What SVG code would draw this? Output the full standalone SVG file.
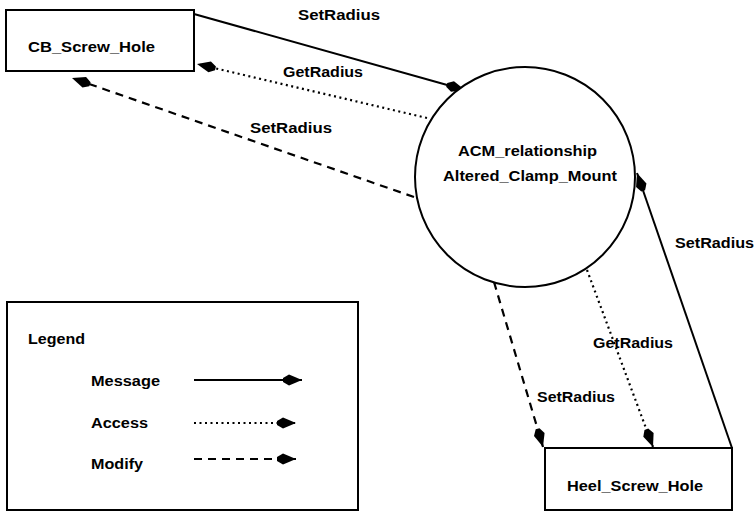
<svg xmlns="http://www.w3.org/2000/svg" width="754" height="513" viewBox="0 0 754 513">
<style>
text{font-family:"Liberation Sans",Arial,sans-serif;font-weight:bold;font-size:14px;fill:#000}
.box{fill:#fff;stroke:#000;stroke-width:2}
.msg{fill:none;stroke:#000;stroke-width:2}
.acc{fill:none;stroke:#000;stroke-width:2.2;stroke-dasharray:2 3.5}
.mod{fill:none;stroke:#000;stroke-width:2.2;stroke-dasharray:8 6}
</style>
<defs>
<marker id="ah" markerUnits="userSpaceOnUse" markerWidth="22" markerHeight="14" viewBox="-20 -7 22 14" refX="0" refY="0" orient="auto">
<path d="M0,0 L-13,-5.5 L-19,-2 L-19,2 L-13,5.5 Z" fill="#000"/>
</marker>
</defs>
<rect width="754" height="513" fill="#fff"/>
<g id="connectors">
<path class="msg" d="M194,14 L465,90" marker-end="url(#ah)"/>
<text x="298" y="20" textLength="82" lengthAdjust="spacingAndGlyphs">SetRadius</text>
<path class="acc" d="M427,118 L197,64" marker-end="url(#ah)"/>
<text x="283" y="77" textLength="80" lengthAdjust="spacingAndGlyphs">GetRadius</text>
<path class="mod" d="M414,197 L72,78" marker-end="url(#ah)"/>
<text x="250" y="133" textLength="82" lengthAdjust="spacingAndGlyphs">SetRadius</text>
<path class="msg" d="M732,448 L637,173" marker-end="url(#ah)"/>
<text x="675" y="248" textLength="79" lengthAdjust="spacingAndGlyphs">SetRadius</text>
<path class="mod" d="M494,282 L543,447" marker-end="url(#ah)"/>
<text x="537" y="402" textLength="78" lengthAdjust="spacingAndGlyphs">SetRadius</text>
<path class="acc" d="M587,270 L653,447" marker-end="url(#ah)"/>
<text x="593" y="348" textLength="80" lengthAdjust="spacingAndGlyphs">GetRadius</text>
</g>
<g id="CB_Screw_Hole">
<rect class="box" x="6" y="10" width="188" height="61"/>
<text x="28" y="52" textLength="127" lengthAdjust="spacingAndGlyphs">CB_Screw_Hole</text>
</g>
<g id="ACM_relationship">
<circle class="box" cx="525" cy="177" r="110" fill="none"/>
<text x="458" y="156" textLength="139" lengthAdjust="spacingAndGlyphs">ACM_relationship</text>
<text x="443" y="181" textLength="174" lengthAdjust="spacingAndGlyphs">Altered_Clamp_Mount</text>
</g>
<g id="Heel_Screw_Hole">
<rect class="box" x="545" y="448" width="187" height="62"/>
<text x="567" y="491" textLength="136" lengthAdjust="spacingAndGlyphs">Heel_Screw_Hole</text>
</g>
<g id="Legend">
<rect class="box" x="7" y="302" width="351" height="208"/>
<text x="28" y="344" textLength="57" lengthAdjust="spacingAndGlyphs">Legend</text>
<text x="91" y="386" textLength="69" lengthAdjust="spacingAndGlyphs">Message</text>
<path class="msg" d="M194,380 L302,380" marker-end="url(#ah)"/>
<text x="91" y="428" textLength="57" lengthAdjust="spacingAndGlyphs">Access</text>
<path class="acc" d="M194,423 L296,423" marker-end="url(#ah)"/>
<text x="91" y="469" textLength="52" lengthAdjust="spacingAndGlyphs">Modify</text>
<path class="mod" d="M194,459 L296,459" marker-end="url(#ah)"/>
</g>
</svg>
